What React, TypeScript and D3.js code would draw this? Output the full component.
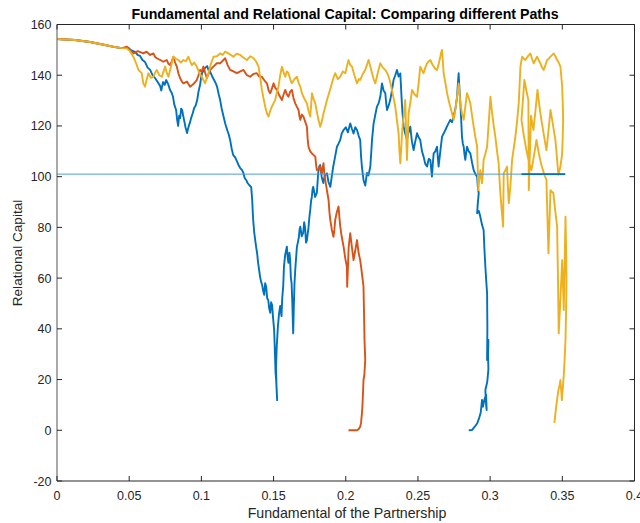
import React from "react";
import * as d3 from "d3";

const WIDTH = 640;
const HEIGHT = 523;

const title = "Fundamental and Relational Capital: Comparing different Paths";
const xLabel = "Fundamental of the Partnership";
const yLabel = "Relational Capital";

const xTicks = [0, 0.05, 0.1, 0.15, 0.2, 0.25, 0.3, 0.35, 0.4];
const xTickLabels = ["0", "0.05", "0.1", "0.15", "0.2", "0.25", "0.3", "0.35", "0.4"];
const yTicks = [-20, 0, 20, 40, 60, 80, 100, 120, 140, 160];

const bluePath: [number, number][] = [
[0,154.3],[0.0125,153.9],[0.0229,153.1],[0.0333,151.9],[0.0402,151.1],[0.0451,150.7],[0.0492,150.9],[0.0515,149.8],[0.0541,149.2],[0.0558,148.0],[0.0575,147.6],[0.0592,146.0],[0.061,145.2],[0.0628,143.0],[0.0645,142.1],[0.066,140.2],[0.0679,138.9],[0.0695,137.5],[0.0714,135.8],[0.0722,134.0],[0.0735,137.3],[0.0746,136.2],[0.0756,138.1],[0.077,136.5],[0.0783,134.2],[0.0795,133.0],[0.0804,131.4],[0.0812,128.5],[0.0825,126.3],[0.0832,122.5],[0.0839,120.0],[0.0846,124.0],[0.0853,123.1],[0.086,126.8],[0.0867,126.3],[0.0874,124.0],[0.088,122.4],[0.089,119.5],[0.0901,117.2],[0.0908,119.0],[0.0915,120.4],[0.0922,121.5],[0.0929,123.1],[0.094,125.0],[0.095,127.1],[0.096,128.0],[0.0971,130.2],[0.098,133.5],[0.0991,136.2],[0.0998,139.0],[0.1005,140.9],[0.1015,141.8],[0.1026,142.9],[0.104,143.6],[0.105,142.0],[0.1061,141.3],[0.1075,139.5],[0.1088,138.1],[0.11,136.8],[0.1109,135.4],[0.112,132.5],[0.113,130.2],[0.114,127.0],[0.1151,124.3],[0.1165,121.0],[0.1179,118.4],[0.119,116.5],[0.1199,114.5],[0.121,111.0],[0.122,108.6],[0.1235,107.5],[0.1248,105.8],[0.1258,104.5],[0.1269,103.4],[0.1279,102.8],[0.1289,101.8],[0.13,99.5],[0.131,98.7],[0.132,97.5],[0.1331,96.7],[0.1345,95.9],[0.1349,93.0],[0.1352,90.8],[0.1356,86.0],[0.1359,82.9],[0.1366,78.0],[0.1373,75.0],[0.138,72.0],[0.1386,69.9],[0.1393,66.0],[0.14,63.2],[0.1407,60.4],[0.1414,58.5],[0.1421,57.3],[0.1428,55.0],[0.1435,53.4],[0.1442,58.0],[0.1449,56.5],[0.1456,52.0],[0.1463,51.4],[0.147,48.0],[0.1477,46.3],[0.1483,50.5],[0.149,49.4],[0.1497,44.0],[0.1504,39.6],[0.1508,33.0],[0.1511,27.7],[0.1514,22.5],[0.1518,19.8],[0.1522,15.0],[0.1525,11.9],[0.152,18.0],[0.1517,25.0],[0.1522,33.0],[0.153,40.9],[0.1538,46.0],[0.1546,49.0],[0.1555,45.0],[0.156,52.0],[0.1567,57.0],[0.1572,64.5],[0.158,69.0],[0.1592,72.4],[0.1598,68.0],[0.1603,66.0],[0.161,70.0],[0.1615,67.0],[0.162,60.0],[0.1625,58.0],[0.163,50.0],[0.1636,38.2],[0.1641,50.0],[0.1645,58.0],[0.165,63.0],[0.1656,68.0],[0.1662,72.4],[0.1668,74.0],[0.1675,76.0],[0.168,79.0],[0.1685,80.3],[0.1695,76.5],[0.1705,77.8],[0.1712,82.0],[0.1718,80.0],[0.1725,74.0],[0.1731,75.0],[0.1742,80.0],[0.1748,84.0],[0.1754,86.9],[0.176,90.5],[0.1765,92.0],[0.177,95.0],[0.1775,96.0],[0.1788,92.0],[0.18,93.6],[0.1805,98.0],[0.1809,101.4],[0.1816,104.0],[0.1823,104.6],[0.1833,100.0],[0.1845,97.5],[0.1855,100.5],[0.187,101.3],[0.188,98.0],[0.1893,96.0],[0.1903,100.0],[0.1913,103.9],[0.1925,107.5],[0.1939,111.8],[0.195,113.0],[0.1962,114.5],[0.1972,117.0],[0.1985,118.4],[0.2,119.5],[0.2015,117.5],[0.2031,121.0],[0.2042,119.0],[0.2054,117.0],[0.2066,119.5],[0.2078,118.4],[0.209,116.0],[0.21,114.5],[0.2106,108.0],[0.2112,103.9],[0.2123,98.7],[0.2135,96.5],[0.2147,101.5],[0.2158,100.5],[0.217,104.0],[0.2176,109.0],[0.2182,114.5],[0.2193,121.0],[0.2205,124.5],[0.2216,127.6],[0.2228,129.0],[0.2239,131.5],[0.2245,134.0],[0.2251,136.8],[0.2262,134.0],[0.2274,132.9],[0.228,129.0],[0.2286,126.3],[0.2297,128.0],[0.2308,130.2],[0.232,134.0],[0.2331,138.1],[0.2343,140.0],[0.2355,142.1],[0.2366,139.5],[0.2378,140.7],[0.2384,134.0],[0.239,127.6],[0.2396,123.0],[0.2401,119.7],[0.2412,117.0],[0.2424,114.5],[0.2435,117.5],[0.2447,119.7],[0.2458,114.0],[0.247,110.5],[0.2482,114.0],[0.2494,117.1],[0.2505,115.5],[0.2516,114.5],[0.2528,110.0],[0.2539,107.9],[0.2551,105.0],[0.2563,104.0],[0.2575,107.0],[0.2586,106.6],[0.2597,100.0],[0.2603,105.0],[0.2609,109.2],[0.262,110.0],[0.2632,111.8],[0.2643,104.0],[0.2655,110.0],[0.2667,115.8],[0.2678,117.0],[0.269,118.4],[0.2707,120.5],[0.2724,122.4],[0.2736,121.5],[0.2747,123.7],[0.276,127.0],[0.2771,131.5],[0.2776,136.0],[0.2782,140.8],[0.2788,134.0],[0.2794,128.9],[0.28,122.0],[0.2805,115.8],[0.2811,113.0],[0.2817,111.8],[0.2822,109.0],[0.2828,106.6],[0.2834,109.5],[0.284,111.8],[0.2852,110.0],[0.2863,109.2],[0.2875,105.5],[0.2886,102.6],[0.2898,101.0],[0.291,100.0],[0.2915,96.0],[0.2921,93.4],[0.2914,89.0],[0.291,85.6],[0.2922,86.5],[0.2932,84.2],[0.2944,81.0],[0.2955,79.0],[0.296,72.0],[0.2967,64.5],[0.2973,59.0],[0.2979,54.0],[0.2981,40.0],[0.2979,27.7],[0.2986,32.0],[0.2988,35.6],[0.2986,29.0],[0.2988,24.0],[0.298,19.0],[0.2967,15.9],[0.2972,10.0],[0.2976,8.0],[0.2972,14.0],[0.296,12.0],[0.295,9.3],[0.2944,12.0],[0.2935,7.0],[0.2925,5.0],[0.2911,2.8],[0.2895,1.5],[0.2874,0.1],[0.2852,0]
];

const orangePath: [number, number][] = [
[0,154.3],[0.0125,153.9],[0.0229,153.1],[0.0333,151.9],[0.0402,151.1],[0.0451,150.7],[0.0483,151.3],[0.0505,150.0],[0.0529,148.6],[0.056,149.5],[0.0598,148.6],[0.062,149.3],[0.0645,148.0],[0.0668,148.6],[0.068,147.2],[0.0691,146.7],[0.0715,146.0],[0.0737,145.3],[0.076,146.0],[0.0772,144.5],[0.0783,144.0],[0.0795,145.5],[0.0806,147.3],[0.0818,145.0],[0.083,143.4],[0.0842,140.5],[0.0853,138.8],[0.0865,137.5],[0.0876,136.8],[0.09,137.5],[0.0922,135.5],[0.0945,136.5],[0.0968,138.1],[0.098,140.0],[0.0991,142.1],[0.1003,141.5],[0.1014,143.4],[0.1026,141.0],[0.1038,138.8],[0.105,140.5],[0.1061,142.1],[0.1085,143.5],[0.1107,144.7],[0.113,144.7],[0.1153,146.0],[0.1165,146.7],[0.1182,144.0],[0.1199,142.1],[0.1222,141.5],[0.1246,140.8],[0.127,141.5],[0.1292,142.1],[0.1315,140.0],[0.1338,139.4],[0.136,140.5],[0.1384,140.8],[0.14,139.5],[0.1419,139.4],[0.1436,138.0],[0.1454,136.8],[0.1466,134.0],[0.1477,132.9],[0.149,135.0],[0.15,136.8],[0.1512,135.0],[0.1523,134.2],[0.154,132.0],[0.1558,130.2],[0.157,132.5],[0.1581,134.2],[0.1592,132.5],[0.1603,131.5],[0.1615,133.5],[0.1627,134.2],[0.1638,131.0],[0.165,128.9],[0.1662,127.5],[0.1673,126.3],[0.1679,124.0],[0.1685,122.4],[0.1696,124.5],[0.1707,123.7],[0.172,121.5],[0.1731,119.7],[0.1736,115.0],[0.1742,111.8],[0.1754,110.0],[0.1766,109.2],[0.1778,108.5],[0.1789,107.9],[0.1795,104.5],[0.18,102.6],[0.1812,103.0],[0.1823,104.0],[0.1829,102.0],[0.1835,101.3],[0.184,103.5],[0.1846,105.3],[0.1852,101.0],[0.1858,98.7],[0.187,94.5],[0.1881,90.8],[0.1887,86.0],[0.1893,82.9],[0.1904,79.0],[0.1915,76.3],[0.1921,79.0],[0.1927,82.9],[0.1938,86.0],[0.195,88.2],[0.1956,84.0],[0.1962,80.3],[0.1973,76.0],[0.1985,72.4],[0.1996,68.0],[0.2008,64.5],[0.201,56.6],[0.2015,64.0],[0.202,72.0],[0.2031,77.7],[0.2043,72.0],[0.2054,67.1],[0.2066,71.0],[0.2078,75.0],[0.2089,70.0],[0.21,67.1],[0.2106,64.5],[0.2112,61.9],[0.2118,59.0],[0.2123,56.6],[0.2127,45.0],[0.213,35.6],[0.2135,27.7],[0.2129,22.0],[0.2123,19.8],[0.2121,17.0],[0.2116,10.0],[0.2112,6.7],[0.2106,3.0],[0.21,1.4],[0.209,0.5],[0.2078,0],[0.205,0],[0.2019,0]
];

const yellowPath: [number, number][] = [
[0,154.3],[0.0125,153.9],[0.0229,153.1],[0.0333,151.9],[0.0402,151.1],[0.0451,150.7],[0.0483,150.6],[0.0505,149.5],[0.0529,147.3],[0.0546,145.0],[0.0564,142.1],[0.0587,140.8],[0.0593,138.5],[0.0598,136.8],[0.061,135.5],[0.062,138.0],[0.0633,140.8],[0.065,139.0],[0.0668,139.4],[0.068,141.0],[0.0691,142.1],[0.0708,140.0],[0.0726,139.4],[0.0738,141.5],[0.0749,143.4],[0.076,141.0],[0.0772,139.4],[0.079,143.5],[0.0806,147.3],[0.0823,146.5],[0.0841,146.0],[0.0858,145.0],[0.0876,146.0],[0.0893,145.5],[0.091,147.3],[0.0922,145.5],[0.0934,144.0],[0.095,145.0],[0.0968,143.4],[0.0985,141.0],[0.1003,139.4],[0.1015,138.0],[0.1026,136.8],[0.1038,139.0],[0.1049,140.8],[0.1066,144.5],[0.1084,147.3],[0.1107,147.5],[0.113,148.6],[0.1148,148.0],[0.1165,149.3],[0.119,148.5],[0.1222,147.3],[0.1245,148.5],[0.1269,148.0],[0.129,147.0],[0.1315,146.0],[0.134,147.5],[0.1361,146.7],[0.1378,145.5],[0.1396,143.4],[0.1408,139.0],[0.1419,134.2],[0.143,131.0],[0.1442,127.6],[0.1454,125.0],[0.1465,123.7],[0.1477,126.0],[0.1488,127.6],[0.15,129.0],[0.1511,130.2],[0.1522,133.0],[0.1534,135.5],[0.1546,140.0],[0.1558,143.4],[0.157,141.0],[0.1581,139.4],[0.1592,141.5],[0.1603,140.8],[0.1615,138.5],[0.1627,136.8],[0.1645,138.5],[0.1662,139.4],[0.1673,137.0],[0.1685,135.5],[0.1696,133.0],[0.1707,131.5],[0.172,130.0],[0.1731,128.9],[0.1742,126.0],[0.1754,123.7],[0.176,128.0],[0.1766,132.9],[0.1778,130.5],[0.1789,128.9],[0.18,125.5],[0.1811,122.4],[0.1823,119.7],[0.1835,122.0],[0.1846,125.0],[0.1858,127.5],[0.187,130.2],[0.1887,133.5],[0.1904,136.8],[0.1915,139.0],[0.1927,140.8],[0.1945,138.5],[0.1962,139.4],[0.198,141.5],[0.1997,140.8],[0.2008,143.5],[0.2019,146.0],[0.2031,144.0],[0.2043,143.4],[0.206,140.0],[0.2078,136.8],[0.209,138.5],[0.21,138.1],[0.2118,140.5],[0.2135,142.1],[0.2146,144.0],[0.2158,146.0],[0.217,143.5],[0.2182,140.8],[0.2193,138.5],[0.2205,136.8],[0.2222,141.0],[0.2239,144.7],[0.2256,143.0],[0.2274,142.1],[0.2286,141.0],[0.2297,139.4],[0.2309,137.0],[0.232,134.2],[0.2331,131.0],[0.2343,127.6],[0.2355,122.0],[0.2366,117.1],[0.2372,110.0],[0.2378,105.3],[0.2384,111.0],[0.239,117.1],[0.2395,121.0],[0.2401,123.7],[0.2406,127.0],[0.2412,130.2],[0.2418,118.0],[0.2424,106.6],[0.243,116.0],[0.2435,125.0],[0.2447,129.0],[0.2459,134.2],[0.2476,132.5],[0.2494,131.5],[0.2505,137.0],[0.2516,143.4],[0.2528,142.0],[0.2539,140.8],[0.2551,143.0],[0.2563,144.7],[0.2575,145.5],[0.2586,146.0],[0.2598,144.5],[0.2609,143.4],[0.262,142.5],[0.2632,142.1],[0.2644,144.5],[0.2655,147.3],[0.2661,149.0],[0.2667,150.0],[0.2672,146.0],[0.2678,140.8],[0.269,137.0],[0.2702,132.9],[0.2713,130.0],[0.2724,127.6],[0.2736,125.0],[0.2747,122.4],[0.2753,124.0],[0.2759,126.3],[0.277,131.0],[0.2782,136.8],[0.2788,133.0],[0.2794,128.9],[0.2805,125.0],[0.2817,122.4],[0.2828,127.5],[0.284,132.9],[0.2852,131.0],[0.2863,128.9],[0.2875,124.0],[0.2886,119.7],[0.2898,115.5],[0.291,111.8],[0.2914,103.0],[0.2918,94.7],[0.2925,99.0],[0.2932,102.6],[0.2938,100.0],[0.2944,97.4],[0.295,102.0],[0.2955,106.6],[0.2967,109.0],[0.2979,111.8],[0.299,121.0],[0.3002,131.5],[0.3008,128.0],[0.3014,125.0],[0.3025,120.0],[0.3036,115.8],[0.3048,110.0],[0.3059,105.3],[0.3065,99.0],[0.3071,93.4],[0.308,87.0],[0.309,80.3],[0.3092,91.0],[0.3094,101.3],[0.3106,102.5],[0.3117,104.0],[0.3123,96.0],[0.3129,89.5],[0.3135,93.0],[0.314,96.0],[0.3146,101.0],[0.3152,106.6],[0.3163,111.0],[0.3175,115.8],[0.3187,122.0],[0.3198,128.9],[0.3204,136.0],[0.321,143.4],[0.3216,145.5],[0.3222,147.3],[0.3233,146.5],[0.3244,146.0],[0.3262,147.5],[0.3279,148.6],[0.329,146.5],[0.3302,144.7],[0.3313,146.0],[0.3325,147.3],[0.3336,146.0],[0.3348,144.7],[0.336,143.0],[0.3371,142.1],[0.3383,144.0],[0.3395,146.0],[0.3406,146.5],[0.3418,147.3],[0.343,148.0],[0.344,148.6],[0.3452,147.5],[0.3464,146.0],[0.3475,145.0],[0.3487,143.4],[0.3493,139.5],[0.3499,135.5],[0.3503,129.0],[0.3506,122.4],[0.3503,116.0],[0.3499,109.2],[0.3487,104.0],[0.3473,100.7],[0.3462,108.0],[0.3452,114.5],[0.3435,120.5],[0.3418,126.3],[0.3404,118.0],[0.339,110.5],[0.3372,116.5],[0.3355,122.4],[0.3341,128.0],[0.3328,134.2],[0.3314,126.0],[0.33,118.4],[0.3283,124.0],[0.3268,94.7],[0.3265,130.2],[0.3251,134.0],[0.3237,138.1],[0.3227,130.0],[0.3217,122.4],[0.3234,116.0],[0.3251,110.5],[0.3268,106.0],[0.3286,102.6],[0.3303,108.0],[0.3321,114.5],[0.3338,109.0],[0.3355,104.6],[0.3372,101.5],[0.339,98.7],[0.3397,84.0],[0.3404,69.8],[0.3411,82.0],[0.3418,94.7],[0.3428,94.0],[0.3438,93.6],[0.345,87.0],[0.3464,80.3],[0.347,60.0],[0.3475,38.2],[0.3487,52.0],[0.3499,67.1],[0.3505,57.0],[0.351,47.4],[0.3516,65.0],[0.3522,84.2],[0.3526,72.0],[0.3529,59.3],[0.3526,47.0],[0.3522,35.6],[0.3517,29.0],[0.3511,22.6],[0.3504,17.0],[0.3497,11.9],[0.3492,16.0],[0.3487,19.8],[0.348,17.5],[0.3473,15.9],[0.3466,13.0],[0.3459,10.0],[0.3452,6.5],[0.3445,2.9]
];

const thresholdLine: [number, number][] = [[0, 101], [0.352, 101]];
const absorbedSegment: [number, number][] = [[0.3217, 101], [0.352, 101]];

const X_DOMAIN: [number, number] = [0, 0.4];
const Y_DOMAIN: [number, number] = [-20, 160];

export default function App() {
  const left = 57, right = 634.5, top = 24.5, bottom = 481;
  const x = d3.scaleLinear().domain(X_DOMAIN).range([left, right]);
  const y = d3.scaleLinear().domain(Y_DOMAIN).range([bottom, top]);
  const line = d3.line<[number, number]>().x(d => x(d[0])).y(d => y(d[1]));
  const font = "'Liberation Sans', Arial, Helvetica, sans-serif";
  const axisColor = "#262626";
  const tickLen = 5;
  const sw = 1.9;

  return (
    <svg width={WIDTH} height={HEIGHT} style={{ position: "absolute", left: 0, top: 0, background: "#fff" }} fontFamily={font}>
      <rect x={0} y={0} width={WIDTH} height={HEIGHT} fill="#fff" />
      <g fill="none" strokeLinejoin="round">
        <path d={line(bluePath) || ""} stroke="#0072BD" strokeWidth={sw} />
        <path d={line(orangePath) || ""} stroke="#D95319" strokeWidth={sw} />
        <path d={line(yellowPath) || ""} stroke="#EDB120" strokeWidth={sw} />
        <path d={line(thresholdLine) || ""} stroke="#4F9BD3" strokeWidth={1} />
        <path d={line(absorbedSegment) || ""} stroke="#0072BD" strokeWidth={1.8} />
      </g>
      <g stroke={axisColor} strokeWidth={1} fill="none">
        <line x1={left} x2={right} y1={top} y2={top} />
        <line x1={left} x2={right} y1={bottom} y2={bottom} />
        <line x1={left} x2={left} y1={top} y2={bottom} stroke="#555" />
        <line x1={right} x2={right} y1={top} y2={bottom} />
        {xTicks.map((t, i) => (
          <g key={"xt" + i}>
            <line x1={x(t)} x2={x(t)} y1={bottom} y2={bottom - tickLen} />
            <line x1={x(t)} x2={x(t)} y1={top} y2={top + tickLen} />
          </g>
        ))}
        {yTicks.map((t, i) => (
          <g key={"yt" + i}>
            <line x1={left} x2={left + tickLen} y1={y(t)} y2={y(t)} />
            <line x1={right} x2={right - tickLen} y1={y(t)} y2={y(t)} />
          </g>
        ))}
      </g>
      <g fill={axisColor} fontSize={12.5}>
        {xTicks.map((t, i) => (
          <text key={"xl" + i} x={x(t)} y={499.5} textAnchor="middle">{xTickLabels[i]}</text>
        ))}
        {yTicks.map((t, i) => (
          <text key={"yl" + i} x={51.5} y={y(t) + 4.5} textAnchor="end">{t}</text>
        ))}
      </g>
      <text x={345} y={19} textAnchor="middle" fontWeight="bold" fontSize={14.2} fill="#000">{title}</text>
      <text x={347} y={517.5} textAnchor="middle" fontSize={14.2} fill={axisColor}>{xLabel}</text>
      <text transform={`translate(21.5,253) rotate(-90)`} textAnchor="middle" fontSize={13.6} fill={axisColor}>{yLabel}</text>
    </svg>
  );
}
